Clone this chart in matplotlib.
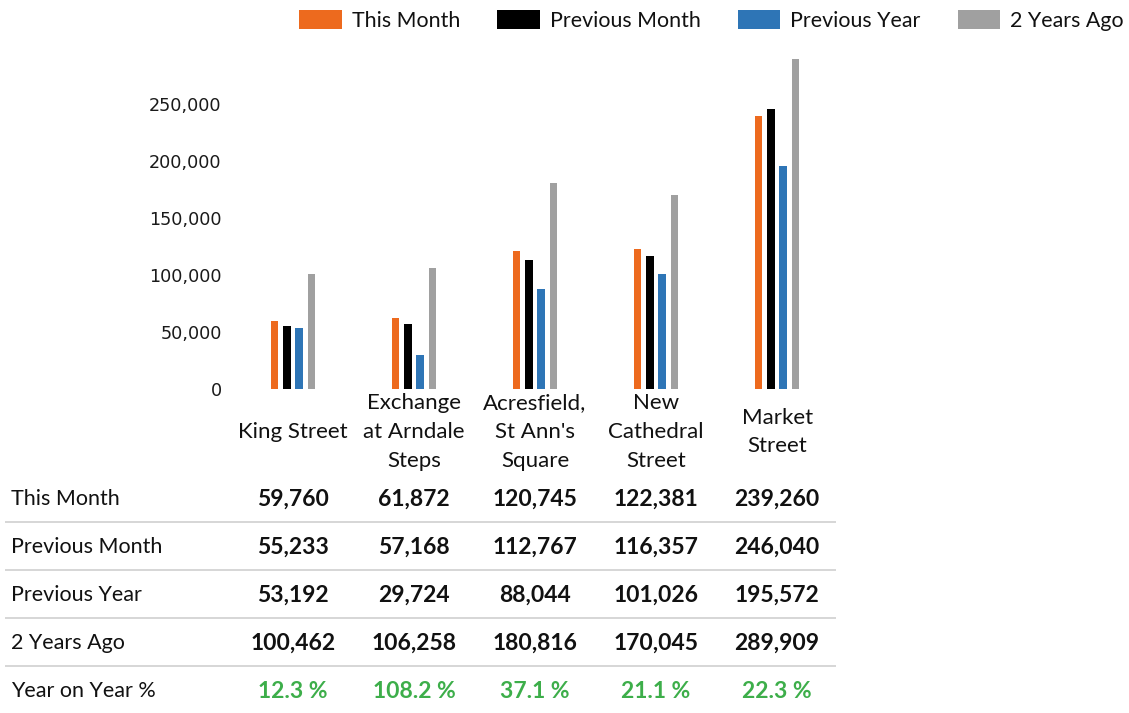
import matplotlib
matplotlib.use("Agg")
import matplotlib.pyplot as plt
import matplotlib.transforms as mtransforms
import numpy as np

# ---------------- data ----------------
categories = ["King Street", "Exchange\nat Arndale\nSteps", "Acresfield,\nSt Ann's\nSquare",
              "New\nCathedral\nStreet", "Market\nStreet"]
series_names = ["This Month", "Previous Month", "Previous Year", "2 Years Ago"]
this_month = [59760, 61872, 120745, 122381, 239260]
previous_month = [55233, 57168, 112767, 116357, 246040]
previous_year = [53192, 29724, 88044, 101026, 195572]
two_years_ago = [100462, 106258, 180816, 170045, 289909]
yoy_label = "Year on Year %"
y_ticks = [0, 50000, 100000, 150000, 200000, 250000]

colors = ["#ED6A1E", "#000000", "#2E75B6", "#A0A0A0"]
green = "#3DAE4A"

LABEL_FONT = "Lato"
TICK_FONT = "DejaVu Sans"

W, H = 1129, 713
fig = plt.figure(figsize=(W / 100, H / 100), dpi=100)

# bar axes (pixel layout)
left_px, right_px, top_px, bottom_px = 230, 840, 50, 389
ax = fig.add_axes([left_px / W, 1 - bottom_px / H, (right_px - left_px) / W, (bottom_px - top_px) / H])

series = [this_month, previous_month, previous_year, two_years_ago]
x = np.arange(len(categories))
step = 0.1017
bw = 0.064
handles = []
for i, (vals, col, name) in enumerate(zip(series, colors, series_names)):
    b = ax.bar(x + (i - 1.5) * step, vals, width=bw, color=col, label=name, linewidth=0)
    handles.append(b)

ax.set_xlim(-0.52, 4.52)
ax.set_ylim(0, (bottom_px - top_px) / 1.14 * 1000)
ax.set_yticks(y_ticks)
ax.set_yticklabels([f"{v:,.0f}" for v in y_ticks], fontsize=12.7, family=TICK_FONT, color="#1a1a1a")
ax.tick_params(axis="y", length=0, pad=6)
ax.set_xticks([])
for s in ax.spines.values():
    s.set_visible(False)

# overlay axes in pixel coords for the table
axt = fig.add_axes([0, 0, 1, 1])
axt.set_xlim(0, W)
axt.set_ylim(H, 0)
axt.axis("off")

blend = mtransforms.blended_transform_factory(ax.transData, axt.transData)

# category labels
for i, cat in enumerate(categories):
    axt.text(i, 432, cat, transform=blend, ha="center", va="center", fontsize=16,
             family=LABEL_FONT, linespacing=1.55, color="#111111")

# table
row_labels = series_names + [yoy_label]
row_y = [499, 547, 595, 643, 691]
for r, (lab, yy) in enumerate(zip(row_labels, row_y)):
    axt.text(11, yy, lab, ha="left", va="center", fontsize=15.5, family=LABEL_FONT, color="#111111")
    if r < 4:
        for i, v in enumerate(series[r]):
            axt.text(i, yy, f"{v:,.0f}", transform=blend, ha="center", va="center",
                     fontsize=16.5, family=LABEL_FONT, fontweight="bold", color="#111111")
    else:
        for i in range(len(categories)):
            pct = (this_month[i] / previous_year[i] - 1) * 100
            axt.text(i, yy, f"{pct:.1f} %", transform=blend, ha="center", va="center",
                     fontsize=16.5, family=LABEL_FONT, fontweight="bold", color=green)
for yy in [522, 570, 618, 666]:
    axt.plot([5, 836], [yy, yy], color="#D3D3D3", lw=1.3, solid_capstyle="butt")

# legend
fs = 15.4
fpx = fs * 100 / 72
leg = fig.legend(handles=handles, labels=series_names, loc="center right",
                 bbox_to_anchor=(1124 / W, 1 - 20.5 / H), ncol=4, frameon=False,
                 prop={"family": LABEL_FONT, "size": fs}, borderpad=0, borderaxespad=0,
                 handlelength=42.7 / fpx, handleheight=21 / fpx, handletextpad=10 / fpx,
                 columnspacing=37 / fpx)
for t in leg.get_texts():
    t.set_color("#111111")

fig.savefig("out.png", dpi=100)
